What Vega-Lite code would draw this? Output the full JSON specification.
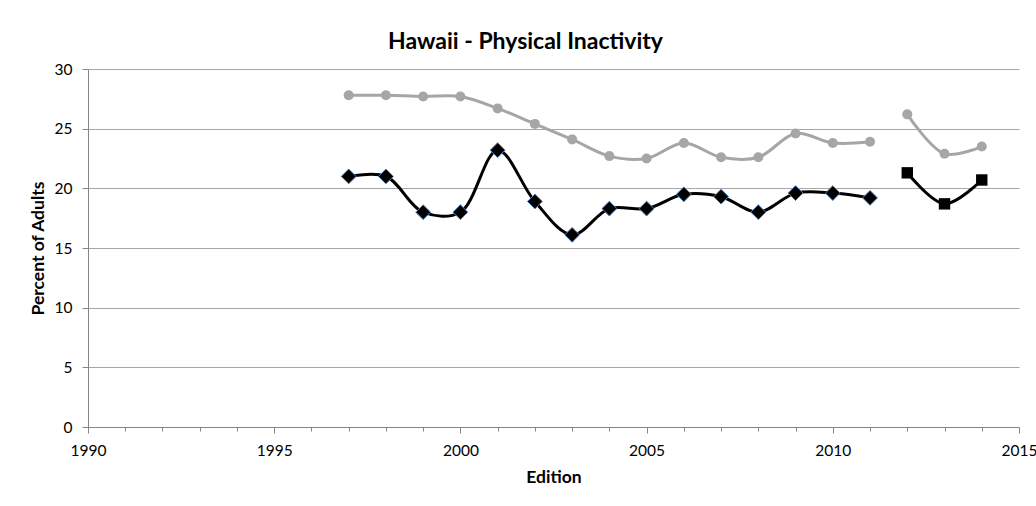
{
  "$schema": "https://vega.github.io/schema/vega-lite/v6.json",
  "width": 931,
  "height": 358,
  "autosize": {"type": "none"},
  "padding": {"left": 88, "top": 69, "right": 17, "bottom": 79},
  "background": "white",
  "title": {
    "text": "Hawaii - Physical Inactivity",
    "font": "Lato",
    "fontSize": 23,
    "fontWeight": "bold",
    "color": "#000000",
    "anchor": "middle",
    "dx": -28,
    "offset": 8
  },
  "config": {
    "view": {"stroke": null},
    "font": "Lato"
  },
  "data": {
    "values": [
      {"year": 1997, "value": 21.0, "series": "Hawaii"},
      {"year": 1998, "value": 21.0, "series": "Hawaii"},
      {"year": 1999, "value": 18.0, "series": "Hawaii"},
      {"year": 2000, "value": 18.0, "series": "Hawaii"},
      {"year": 2001, "value": 23.2, "series": "Hawaii"},
      {"year": 2002, "value": 18.9, "series": "Hawaii"},
      {"year": 2003, "value": 16.1, "series": "Hawaii"},
      {"year": 2004, "value": 18.3, "series": "Hawaii"},
      {"year": 2005, "value": 18.3, "series": "Hawaii"},
      {"year": 2006, "value": 19.5, "series": "Hawaii"},
      {"year": 2007, "value": 19.3, "series": "Hawaii"},
      {"year": 2008, "value": 18.0, "series": "Hawaii"},
      {"year": 2009, "value": 19.6, "series": "Hawaii"},
      {"year": 2010, "value": 19.6, "series": "Hawaii"},
      {"year": 2011, "value": 19.2, "series": "Hawaii"},
      {"year": 2012, "value": 21.3, "series": "Hawaii (new method)"},
      {"year": 2013, "value": 18.7, "series": "Hawaii (new method)"},
      {"year": 2014, "value": 20.7, "series": "Hawaii (new method)"},
      {"year": 1997, "value": 27.8, "series": "US"},
      {"year": 1998, "value": 27.8, "series": "US"},
      {"year": 1999, "value": 27.7, "series": "US"},
      {"year": 2000, "value": 27.7, "series": "US"},
      {"year": 2001, "value": 26.7, "series": "US"},
      {"year": 2002, "value": 25.4, "series": "US"},
      {"year": 2003, "value": 24.1, "series": "US"},
      {"year": 2004, "value": 22.7, "series": "US"},
      {"year": 2005, "value": 22.5, "series": "US"},
      {"year": 2006, "value": 23.8, "series": "US"},
      {"year": 2007, "value": 22.6, "series": "US"},
      {"year": 2008, "value": 22.6, "series": "US"},
      {"year": 2009, "value": 24.6, "series": "US"},
      {"year": 2010, "value": 23.8, "series": "US"},
      {"year": 2011, "value": 23.9, "series": "US"},
      {"year": 2012, "value": 26.2, "series": "US (new method)"},
      {"year": 2013, "value": 22.9, "series": "US (new method)"},
      {"year": 2014, "value": 23.5, "series": "US (new method)"}
    ]
  },
  "encoding": {
    "x": {
      "field": "year",
      "type": "quantitative",
      "scale": {"domain": [1990, 2015], "nice": false, "zero": false},
      "axis": {
        "title": "Edition",
        "titleFont": "Lato",
        "titleFontSize": 17.5,
        "titleFontWeight": "bold",
        "titleColor": "#000000",
        "titlePadding": 10,
        "values": [1990,1991,1992,1993,1994,1995,1996,1997,1998,1999,2000,2001,2002,2003,2004,2005,2006,2007,2008,2009,2010,2011,2012,2013,2014,2015],
        "labelExpr": "datum.value % 5 === 0 ? datum.value : ''",
        "format": "d",
        "labelFont": "Lato",
        "labelFontSize": 15.5,
        "labelColor": "#000000",
        "labelPadding": 10,
        "labelFlush": false,
        "labelOverlap": false,
        "grid": false,
        "domainColor": "#868686",
        "tickColor": "#868686",
        "tickSize": {"condition": {"test": "datum.value % 5 === 0", "value": 6}, "value": 4}
      }
    },
    "y": {
      "field": "value",
      "type": "quantitative",
      "scale": {"domain": [0, 30], "nice": false},
      "axis": {
        "title": "Percent of Adults",
        "titleFont": "Lato",
        "titleFontSize": 17.5,
        "titleFontWeight": "bold",
        "titleColor": "#000000",
        "titlePadding": 7,
        "values": [0, 5, 10, 15, 20, 25, 30],
        "labelFont": "Lato",
        "labelFontSize": 15.5,
        "labelColor": "#000000",
        "labelPadding": 10,
        "tickSize": 6,
        "tickColor": "#868686",
        "domainColor": "#868686",
        "grid": true,
        "gridColor": "#A6A6A6",
        "gridWidth": 1
      }
    }
  },
  "layer": [
    {
      "mark": {"type": "line", "interpolate": "catmull-rom", "strokeWidth": 3},
      "encoding": {
        "color": {
          "field": "series",
          "type": "nominal",
          "scale": {
            "domain": ["Hawaii", "Hawaii (new method)", "US", "US (new method)"],
            "range": ["#000000", "#000000", "#A6A6A6", "#A6A6A6"]
          },
          "legend": null
        },
        "detail": {"field": "series"}
      }
    },
    {
      "transform": [{"filter": "datum.series === 'US' || datum.series === 'US (new method)'"}],
      "mark": {"type": "point", "shape": "circle", "filled": true, "size": 100, "color": "#A6A6A6", "opacity": 1},
      "encoding": {}
    },
    {
      "transform": [{"filter": "datum.series === 'Hawaii'"}],
      "mark": {"type": "point", "shape": "diamond", "filled": true, "size": 220, "fill": "#000000", "stroke": "#4F81BD", "strokeWidth": 1, "opacity": 1, "fillOpacity": 1},
      "encoding": {}
    },
    {
      "transform": [{"filter": "datum.series === 'Hawaii (new method)'"}],
      "mark": {"type": "point", "shape": "square", "filled": true, "size": 130, "color": "#000000", "opacity": 1},
      "encoding": {}
    }
  ]
}
